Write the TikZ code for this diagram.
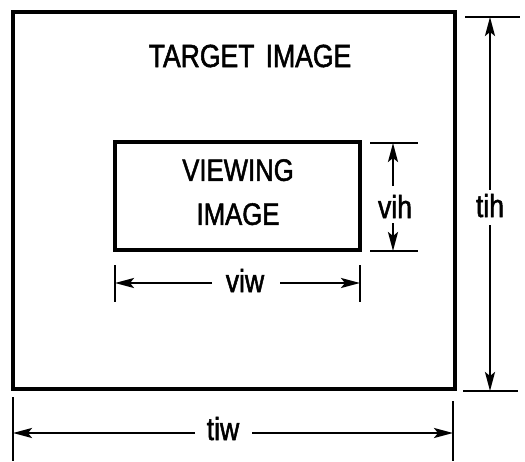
\documentclass[tikz,border=0pt]{standalone}
\usepackage{fontspec}
\setmainfont{Liberation Sans}[FakeStretch=0.83,FakeBold=1.6]
\usetikzlibrary{arrows.meta}
\begin{document}
\begin{tikzpicture}[x=1pt,y=-1pt,
  box/.style={line width=3.2pt},
  tick/.style={line width=2.6pt},
  dim/.style={line width=2.3pt,-{Stealth[length=19pt,width=10pt,inset=4pt]}},
  lbl/.style={font=\fontsize{32}{44}\selectfont,inner sep=0pt,anchor=base},
]
\useasboundingbox (0,0) rectangle (525,461);
% boxes
\draw[box] (13,12) rectangle (455,389);
\draw[box] (115,142) rectangle (360,250);
\node[lbl] (target) at (250,67) {TARGET\hspace{0.35em}IMAGE};
\node[font=\fontsize{31}{44}\selectfont,inner sep=0pt,align=center,anchor=north] (view) at (238,159) {VIEWING\\IMAGE};
% tih
\coordinate (tihT1) at (465,17); \coordinate (tihT2) at (520,17);
\coordinate (tihB1) at (463,391); \coordinate (tihB2) at (518,391);
\draw[tick] (tihT1) -- (tihT2);
\draw[tick] (tihB1) -- (tihB2);
\node[lbl] (tih) at (490,217) {tih};
\coordinate (tihA) at (490,17); \coordinate (tihZ) at (490,391);
\draw[dim] (tih.north) ++(0,-4) -- (tihA);
\draw[dim] (tih.south) ++(0,8) -- (tihZ);
% tiw
\coordinate (tiwL1) at (13,397); \coordinate (tiwL2) at (13,461);
\coordinate (tiwR1) at (453,401); \coordinate (tiwR2) at (453,461);
\draw[tick] (tiwL1) -- (tiwL2);
\draw[tick] (tiwR1) -- (tiwR2);
\node[lbl] (tiw) at (223,440) {tiw};
\coordinate (tiwA) at (13,433); \coordinate (tiwZ) at (453,433);
\draw[dim] (195,433) -- (tiwA);
\draw[dim] (252,433) -- (tiwZ);
% vih
\coordinate (vihT1) at (370,143); \coordinate (vihT2) at (418,143);
\coordinate (vihB1) at (370,251); \coordinate (vihB2) at (418,251);
\draw[tick] (vihT1) -- (vihT2);
\draw[tick] (vihB1) -- (vihB2);
\node[lbl] (vih) at (395,218) {vih};
\coordinate (vihA) at (393,143); \coordinate (vihZ) at (393,251);
\draw[dim] (393,186) -- (vihA);
\draw[dim] (393,223) -- (vihZ);
% viw
\coordinate (viwL1) at (115,265); \coordinate (viwL2) at (115,302);
\coordinate (viwR1) at (360,265); \coordinate (viwR2) at (360,302);
\draw[tick] (viwL1) -- (viwL2);
\draw[tick] (viwR1) -- (viwR2);
\node[lbl] (viw) at (245,292) {viw};
\coordinate (viwA) at (115,283); \coordinate (viwZ) at (360,283);
\draw[dim] (212,283) -- (viwA);
\draw[dim] (280,283) -- (viwZ);
\end{tikzpicture}
\end{document}
